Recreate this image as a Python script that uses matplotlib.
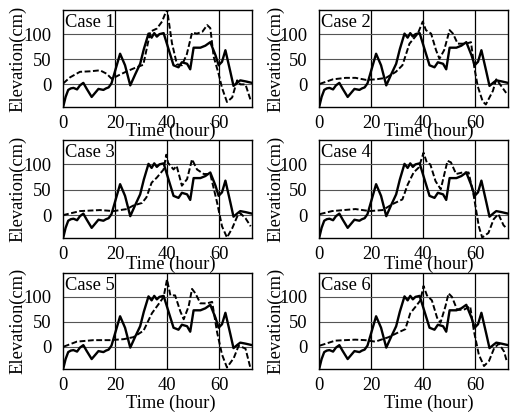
import matplotlib
matplotlib.use("Agg")
import matplotlib.pyplot as plt

plt.rcParams['font.family'] = ['Liberation Serif', 'DejaVu Serif']

x_ticks = [0, 20, 40, 60]
y_ticks = [0, 50, 100]
case_labels = ["Case 1", "Case 2", "Case 3", "Case 4", "Case 5", "Case 6"]

# Observed elevation (solid), same in all panels
obs_t = [0.2, 1, 2, 3, 4, 5.4, 6.5, 7.8, 9, 11, 12.3, 13.6, 15.5, 16.5, 17.5, 18.6,
         21.9, 23.8, 25.8, 27.7, 29.6, 31, 32.8, 34, 35, 36, 37, 38.6, 40.5, 42.4,
         44.3, 45.6, 47.6, 48.8, 50.1, 52.7, 54.6, 56.5, 58.5, 59.7, 61, 62.3, 64.2,
         65.4, 67, 68, 70, 72.5]
obs_v = [-42, -25, -11, -8, -7, -10, -2, 3, -8, -25, -17, -9, -11, -8, -6, 2,
         61, 38, -2, 20, 41, 70, 101, 93, 102, 95, 100, 102, 70, 38,
         34, 44, 41, 30, 73, 73, 77, 84, 58, 38, 45, 68, 25,
         -3, 4, 8, 6, 3]

# Simulated elevation (dashed) per case
sim1_t = [0.1, 2.7, 6.5, 10.4, 14.2, 16.8, 18.7, 21.3, 24.5, 27.7, 30.8, 33.5, 36, 38,
          39.9, 41.8, 43.7, 45.6, 47.5, 49.5, 51.4, 53.5, 55.3, 56.5, 57.8, 59.7, 61,
          62.9, 64.9, 66.8, 68, 70, 72]
sim1_v = [2, 14, 25, 26, 28, 21, 11, 18, 26, 33, 39, 105, 111, 125,
          150, 82, 40, 38, 60, 103, 101, 105, 118, 112, 55, 21, -7,
          -35, -26, 8, 0, 0, -32]

sim2_t = [0.3, 5.3, 10.3, 14, 18, 21.8, 25.7, 29.5, 32, 34.7, 37.9, 39.8, 41, 43,
          44.9, 46.2, 48, 50.1, 51.4, 53.2, 56.4, 58.3, 59.6, 60.9, 62.8, 64, 66.7,
          68, 70, 71.8]
sim2_v = [1, 10, 13, 13, 9, 10, 13, 25, 38, 81, 101, 125, 108, 101,
          68, 51, 68, 108, 101, 81, 81, 84, 33, -4, -34, -40, -13,
          10, -4, -17]

sim3_t = [0, 6.5, 14.2, 19.4, 24.5, 27, 30.3, 32, 34, 36, 38.6, 39.6, 40.3, 42.4,
          43.6, 45.6, 47.6, 49.5, 51.4, 54, 56.5, 59.1, 61, 62.9, 64.9, 66.8, 68,
          70, 72]
sim3_v = [0, 8, 10, 8, 12, 19, 24, 35, 64, 74, 90, 119, 103, 90,
          97, 58, 71, 110, 90, 81, 81, 25, -22, -44, -26, -3, 4,
          -6, -22]

sim4_t = [0.3, 5, 14, 19.4, 24.4, 28.3, 32, 34, 36.3, 38.3, 40.1, 41.4, 42.7, 44.7,
          46.7, 49.3, 50.6, 52.6, 55, 57.4, 59.4, 61.3, 62.6, 65, 67, 68.8, 70.8, 72]
sim4_v = [2, 8, 12, 8, 10, 22, 31, 60, 84, 94, 123, 103, 100, 67,
          51, 107, 104, 81, 84, 84, 37, -22, -44, -35, -8, 2, -20, -26]

sim5_t = [0.3, 5.3, 11.7, 18, 23.3, 27, 30.9, 34.1, 37.3, 38.6, 39.9, 41.2, 43, 45,
          46.3, 48.2, 49.5, 50.8, 52.7, 55.3, 57.2, 59.1, 61, 62.9, 65.5, 67.4, 70, 72]
sim5_v = [0, 10, 13, 13, 15, 19, 32, 67, 90, 100, 135, 103, 103, 71,
          55, 81, 116, 107, 87, 87, 90, 29, -16, -42, -23, 2, -4, -45]

sim6_t = [0.3, 6.2, 13.9, 17.7, 21.6, 26.7, 30.6, 33.1, 35, 37, 38.9, 40.1, 41.4, 43.3,
          45.3, 46.6, 48.5, 49.7, 51, 53, 55.5, 58, 59.4, 61.3, 63.3, 65.2, 67.2, 69,
          71, 72]
sim6_v = [2, 12, 14, 13, 10, 19, 29, 35, 67, 80, 93, 122, 103, 93,
          58, 48, 81, 107, 100, 74, 74, 81, 32, -16, -39, -29, -3, 6,
          -10, -29]

sims = [(sim1_t, sim1_v), (sim2_t, sim2_v), (sim3_t, sim3_v),
        (sim4_t, sim4_v), (sim5_t, sim5_v), (sim6_t, sim6_v)]

W, H = 512, 418
fig = plt.figure(figsize=(W / 100, H / 100), dpi=100)

col_left = [63, 319]
ax_w = 189
rows = [(10, 107), (140, 238), (273, 369)]
xlab_y = [131, 264.5, 403]
xlab_x = [171, 429]
ylab_x = [18, 276]

FS = 13.3
for i in range(6):
    r, c = divmod(i, 2)
    top, bot = rows[r]
    ax = fig.add_axes([col_left[c] / W, 1 - bot / H, ax_w / W, (bot - top) / H])
    ax.plot(obs_t, obs_v, color='black', lw=1.7, solid_joinstyle='round')
    st, sv = sims[i]
    ax.plot(st, sv, color='black', lw=1.4, linestyle=(0, (3, 1.3)))
    ax.set_xlim(0, 72.5)
    ax.set_ylim(-45, 148)
    ax.set_xticks(x_ticks)
    ax.set_yticks(y_ticks)
    ax.tick_params(length=0, labelsize=FS)
    ax.tick_params(axis='x', pad=6)
    ax.tick_params(axis='y', pad=8)
    for v in x_ticks[1:]:
        ax.axvline(v, color='black', lw=0.9, zorder=0)
    for v in y_ticks:
        ax.axhline(v, color='#555555', lw=0.8, zorder=0)
    for s in ax.spines.values():
        s.set_linewidth(1.0)
    ax.text(0.012, 0.955, case_labels[i], transform=ax.transAxes,
            ha='left', va='top', fontsize=FS)
    fig.text(xlab_x[c] / W, 1 - xlab_y[r] / H, "Time (hour)", ha='center',
             va='center', fontsize=FS)
    fig.text(ylab_x[c] / W, 1 - (top + bot) / 2 / H, "Elevation(cm)", ha='center',
             va='center', rotation=90, fontsize=FS)

fig.savefig("out.png", dpi=100)
